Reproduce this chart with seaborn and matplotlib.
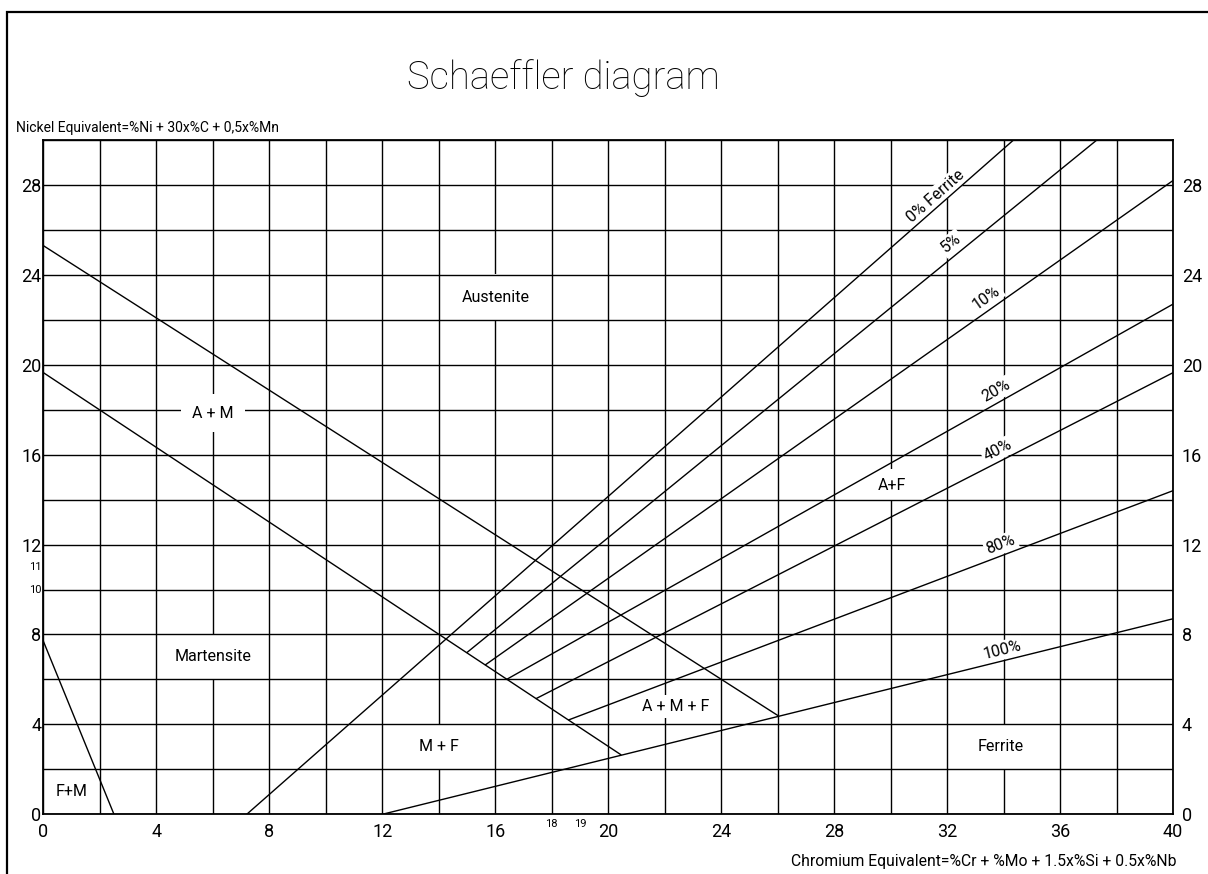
import numpy as np
import pandas as pd
import seaborn as sns
from matplotlib import pyplot as plt
from matplotlib.patches import Rectangle

# phase boundaries, (Cr eq, Ni eq) end points
boundary_names = ['A / A+M', 'A+M / M', 'F+M']
boundary_cr = [[0.0, 26.0], [0.0, 20.45], [0.0, 2.5]]
boundary_ni = [[25.3, 4.4], [19.65, 2.65], [7.7, 0.0]]

# iso-ferrite lines
ferrite_labels = ['0% Ferrite', '5%', '10%', '20%', '40%', '80%', '100%']
ferrite_cr = [[7.2, 34.35], [15.0, 37.3], [15.65, 40.0], [16.4, 40.0],
              [17.45, 40.0], [18.6, 40.0], [12.0, 40.0]]
ferrite_ni = [[0.0, 30.0], [7.2, 30.0], [6.65, 28.2], [6.0, 22.7],
              [5.15, 19.65], [4.2, 14.4], [0.0, 8.7]]
label_cr = [31.6, 32.15, 33.4, 33.75, 33.8, 33.9, 33.95]
label_ni = [27.5, 25.4, 23.0, 18.85, 16.2, 12.0, 7.3]

# phase fields
regions = ['Austenite', 'A + M', 'Martensite', 'F+M', 'M + F', 'A + M + F', 'Ferrite', 'A+F']
region_cr = [16.0, 6.0, 6.0, 1.0, 14.0, 22.4, 33.9, 30.05]
region_ni = [23.0, 17.85, 7.0, 1.0, 3.0, 4.8, 3.0, 14.65]
# 'cell' labels blank out the whole grid cell segment behind them
region_kind = ['cell', 'cross', 'cell', 'none', 'cell', 'small', 'cell', 'mid']

x_ticks = np.arange(0, 41, 2)
y_ticks = np.arange(0, 31, 2)

# long table for seaborn
rows = []
for name, xs, ys in zip(boundary_names + ferrite_labels,
                        boundary_cr + ferrite_cr, boundary_ni + ferrite_ni):
    for x, y in zip(xs, ys):
        rows.append({'line': name, 'cr': x, 'ni': y})
df = pd.DataFrame(rows)

sns.set_style('white')
plt.rcParams['font.family'] = ['Roboto', 'DejaVu Sans']
plt.rcParams['text.color'] = 'black'
plt.rcParams['xtick.color'] = 'black'
plt.rcParams['ytick.color'] = 'black'

fig = plt.figure(figsize=(12.08, 8.74), dpi=100)
ax = fig.add_axes([0.0359, 0.0683, 0.9352, 0.7715])
ax.set_xlim(0, 40)
ax.set_ylim(0, 30)

sns.lineplot(data=df, x='cr', y='ni', units='line', estimator=None, sort=False,
             color='black', lw=1.0, ax=ax, zorder=4, legend=False)

# grid every 2, labels every 4
ax.set_xticks(x_ticks)
ax.set_xticklabels([str(v) if v % 4 == 0 else '' for v in x_ticks], fontsize=13)
ax.set_yticks(y_ticks)
ax.set_yticklabels([str(v) if v % 4 == 0 and v < 30 else '' for v in y_ticks], fontsize=13)
ax.tick_params(axis='both', length=0)
ax.tick_params(axis='x', pad=6)
ax.tick_params(axis='y', pad=1.5, labelright=True)
ax.grid(True, color='black', lw=1.0)
ax.xaxis.set_zorder(0.5)
ax.yaxis.set_zorder(2.5)
for s in ax.spines.values():
    s.set_color('black')
    s.set_linewidth(1.3)
ax.set_xlabel('')
ax.set_ylabel('')

for t in ax.yaxis.get_major_ticks():
    t.label2.set_x(1.006)

# small extra tick labels
for v in [10, 11]:
    ax.text(-0.08, v, str(v), fontsize=8, ha='right', va='center')
for v in [18, 19]:
    ax.text(v, -0.2, str(v), fontsize=8, ha='center', va='top')

# phase field labels
for name, x, y, kind in zip(regions, region_cr, region_ni, region_kind):
    if kind == 'cell':
        ax.text(x, y, '\n' + name + '\n', fontsize=11.5, ha='center', va='center',
                linespacing=0.95, zorder=2,
                bbox=dict(facecolor='white', edgecolor='none', pad=1))
    elif kind == 'cross':
        ax.text(x, y, name, fontsize=11.5, ha='center', va='center', zorder=3,
                bbox=dict(facecolor='white', edgecolor='none', pad=8))
    elif kind == 'mid':
        ax.text(x, y, name, fontsize=11.5, ha='center', va='center', zorder=2,
                bbox=dict(facecolor='white', edgecolor='none', pad=6))
    elif kind == 'small':
        ax.text(x, y, name, fontsize=11.5, ha='center', va='center', zorder=2,
                bbox=dict(facecolor='white', edgecolor='none', pad=3))
    else:
        ax.text(x, y, name, fontsize=11.5, ha='center', va='center', zorder=3)

# iso-ferrite labels, rotated along their lines
for name, xs, ys, x, y in zip(ferrite_labels, ferrite_cr, ferrite_ni, label_cr, label_ni):
    p = ax.transData.transform([[xs[0], ys[0]], [xs[1], ys[1]]])
    ang = np.degrees(np.arctan2(p[1, 1] - p[0, 1], p[1, 0] - p[0, 0]))
    ax.text(x, y, name, fontsize=11.5, ha='center', va='center', rotation=ang,
            rotation_mode='anchor', zorder=3,
            bbox=dict(facecolor='white', edgecolor='none', pad=1.5))

fig.text(0.466, 0.911, 'Schaeffler diagram', fontsize=27.5, weight='light',
         ha='center', va='center')
fig.text(0.013, 0.854, 'Nickel Equivalent=%Ni + 30x%C + 0,5x%Mn', fontsize=10,
         ha='left', va='center')
fig.text(0.974, 0.014, 'Chromium Equivalent=%Cr + %Mo + 1.5x%Si + 0.5x%Nb', fontsize=11.3,
         ha='right', va='center')

# drawing frame
fig.patches.append(Rectangle((0.0056, -0.05), 1.1, 1.0366, transform=fig.transFigure,
                             fill=False, edgecolor='black', lw=1.6))

fig.savefig('out.png', dpi=100)
